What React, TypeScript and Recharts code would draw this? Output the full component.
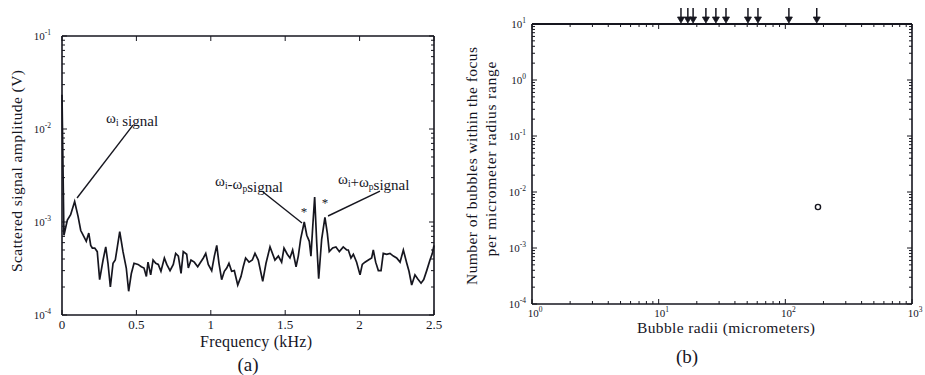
import React from "react";
import { LineChart, Line, XAxis, YAxis, ReferenceLine, ScatterChart, Scatter } from "recharts";

const INK = "#16161f";
const FONT = "'Liberation Serif', 'DejaVu Serif', serif";

// (a) scattered signal spectrum
const freqKHz = [
  0, 0.013, 0.036, 0.058, 0.085, 0.108, 0.126, 0.148, 0.163, 0.18, 0.193, 0.204, 0.22, 0.237, 0.253, 0.276, 0.294, 0.309,
  0.325, 0.343, 0.358, 0.372, 0.388, 0.41, 0.432, 0.448, 0.466, 0.484, 0.511, 0.533, 0.551, 0.567, 0.578, 0.596, 0.612, 0.63,
  0.647, 0.665, 0.688, 0.704, 0.726, 0.748, 0.764, 0.782, 0.8, 0.815, 0.838, 0.849, 0.867, 0.889, 0.912, 0.927, 0.95, 0.966,
  0.983, 1.006, 1.024, 1.04, 1.055, 1.073, 1.091, 1.107, 1.122, 1.14, 1.158, 1.181, 1.203, 1.218, 1.234, 1.257, 1.279,
  1.297, 1.319, 1.349, 1.371, 1.398, 1.431, 1.454, 1.476, 1.492, 1.514, 1.532, 1.55, 1.573, 1.588, 1.604, 1.628, 1.645,
  1.662, 1.673, 1.685, 1.698, 1.712, 1.725, 1.745, 1.767, 1.783, 1.796, 1.819, 1.841, 1.864, 1.89, 1.913,
  1.924, 1.942, 1.958, 1.98, 2.003, 2.018, 2.036, 2.059, 2.081, 2.092, 2.108, 2.126, 2.144, 2.159, 2.182, 2.204, 2.227,
  2.249, 2.272, 2.294, 2.317, 2.332, 2.35, 2.372, 2.39, 2.413, 2.431, 2.451, 2.473, 2.489, 2.5,
];
const amplitudeV = [
  2.34e-2, 7.2e-4, 1.05e-3, 1.2e-3, 1.66e-3, 1.15e-3, 8.1e-4, 6.9e-4, 6.2e-4, 7.6e-4, 5.6e-4, 5.25e-4, 5.25e-4, 4.8e-4, 2.4e-4, 3.9e-4, 5.4e-4, 3.6e-4,
  2.0e-4, 3.6e-4, 3.9e-4, 5.4e-4, 7.9e-4, 4.8e-4, 3.2e-4, 1.8e-4, 2.8e-4, 3.6e-4, 3.5e-4, 3.3e-4, 3.2e-4, 2.6e-4, 3.7e-4, 2.7e-4, 3.9e-4, 3.6e-4,
  3.5e-4, 2.95e-4, 4.1e-4, 3.5e-4, 3.0e-4, 3.5e-4, 4.6e-4, 4.3e-4, 2.8e-4, 4.8e-4, 4.5e-4, 3.2e-4, 3.9e-4, 3.7e-4, 3.3e-4, 3.6e-4, 4.1e-4, 4.6e-4,
  3.5e-4, 3.0e-4, 4.3e-4, 5.6e-4, 3.6e-4, 2.4e-4, 2.95e-4, 3.2e-4, 3.6e-4, 2.95e-4, 3.0e-4, 2.1e-4, 2.6e-4, 3.3e-4, 4.1e-4, 3.7e-4, 3.9e-4,
  4.6e-4, 3.9e-4, 2.3e-4, 3.6e-4, 5.4e-4, 3.9e-4, 4.3e-4, 3.7e-4, 5.25e-4, 4.5e-4, 4.1e-4, 5.0e-4, 3.3e-4, 4.3e-4, 6.6e-4, 1.0e-3, 7.2e-4,
  6.2e-4, 4.3e-4, 8.9e-4, 1.86e-3, 5.9e-4, 2.45e-4, 6.5e-4, 1.12e-3, 7.6e-4, 4.8e-4, 5.25e-4, 5.4e-4, 4.8e-4, 5.4e-4, 5.0e-4,
  5.0e-4, 4.1e-4, 4.5e-4, 3.7e-4, 2.7e-4, 3.5e-4, 3.7e-4, 3.9e-4, 4.1e-4, 5.0e-4, 3.7e-4, 3.0e-4, 3.0e-4, 4.6e-4, 4.5e-4, 4.6e-4, 4.3e-4,
  4.1e-4, 3.7e-4, 5.0e-4, 3.6e-4, 2.95e-4, 2.1e-4, 2.7e-4, 2.45e-4, 2.2e-4, 2.4e-4, 3.0e-4, 3.9e-4, 4.6e-4, 5.6e-4,
];
const freqTicks = [0, 0.5, 1, 1.5, 2, 2.5];
const freqTickLabels = ["0", "0.5", "1", "1.5", "2", "2.5"];
const ampDecades = [1e-4, 1e-3, 1e-2, 1e-1];

// pointer lines for the annotations, [kHz, V] -> [kHz, V]
const pointerLines = [
  [[0.477, 1.1e-2], [0.101, 1.81e-3]],
  [[1.351, 2.1e-3], [1.613, 9.75e-4]],
  [[2.137, 2.15e-3], [1.788, 1.16e-3]],
];

// (b) bubble radii
const arrowRadii = [15, 17, 18.7, 23.6, 28.3, 34, 50.7, 60.8, 106.7, 177];
const measuredRadius = [181];
const measuredCount = [0.0054];
const radiusDecades = [1, 10, 100, 1000];
const countDecades = [1e-4, 1e-3, 1e-2, 1e-1, 1, 10];

const spectrum = freqKHz.map((f, i) => ({ f, v: amplitudeV[i] }));
const arrowPoints = arrowRadii.map((r) => ({ r, n: 10 }));
const measuredPoints = measuredRadius.map((r, i) => ({ r, n: measuredCount[i] }));

// chart boxes: plot of (a) is 372 x 279, plot of (b) is 380 x 280
const A = { w: 460, h: 375, m: { top: 36, right: 26, bottom: 40, left: 22 }, yw: 40, xh: 20 };
const B = { w: 465, h: 375, m: { top: 24, right: 13, bottom: 51, left: 32 }, yw: 40, xh: 20 };
const plotW = (c: typeof A) => c.w - c.m.left - c.m.right - c.yw;
const plotH = (c: typeof A) => c.h - c.m.top - c.m.bottom - c.xh;

function withMinors(decades: number[]) {
  const out: number[] = [];
  decades.forEach((d, i) => {
    if (i === decades.length - 1) out.push(d);
    else for (let k = 1; k < 10; k++) out.push(d * k);
  });
  return out;
}

const isDecade = (v: number) => Math.abs(Math.log10(v) - Math.round(Math.log10(v))) < 1e-6;

function powLabel(v: number) {
  const exp = Math.round(Math.log10(v));
  return (
    <>
      10<tspan dy={-5} fontSize={7.5}>{exp}</tspan>
    </>
  );
}

// left axis tick: label outside, short tick marks inward on left and right edges
function makeLogYTick(margin: number, width: number) {
  return function LogYTick(props: any) {
    const { x, y, payload } = props;
    const v = payload.value;
    const major = isDecade(v);
    const ax = x + margin;
    const len = major ? 5 : 3;
    return (
      <g>
        <line x1={ax} y1={y} x2={ax + len} y2={y} stroke={INK} strokeWidth={1} />
        <line x1={ax + width} y1={y} x2={ax + width - len} y2={y} stroke={INK} strokeWidth={1} />
        {major && (
          <text x={x} y={y} dy={4} textAnchor="end" fontSize={11} fill={INK} fontFamily={FONT}>
            {powLabel(v)}
          </text>
        )}
      </g>
    );
  };
}

// bottom axis tick: label below, tick marks inward on bottom and top edges
function makeXTick(margin: number, height: number, log: boolean) {
  return function XTick(props: any) {
    const { x, y, payload } = props;
    const v = payload.value;
    const major = log ? isDecade(v) : true;
    const ay = y - margin;
    const len = major ? 5 : 3;
    return (
      <g>
        <line x1={x} y1={ay} x2={x} y2={ay - len} stroke={INK} strokeWidth={1} />
        <line x1={x} y1={ay - height} x2={x} y2={ay - height + len} stroke={INK} strokeWidth={1} />
        {major && (
          <text x={log ? x + 3 : x} y={y} dy={9} textAnchor="middle" fontSize={log ? 11 : 13} fill={INK}
            fontFamily={FONT}>
            {log ? powLabel(v) : freqTickLabels[freqTicks.indexOf(v)]}
          </text>
        )}
      </g>
    );
  };
}

function ArrowShape(props: any) {
  const { cx, cy } = props;
  return (
    <g stroke={INK} strokeWidth={1.5} fill={INK}>
      <line x1={cx} y1={cy - 16} x2={cx} y2={cy - 4} />
      <polygon points={`${cx - 3.5},${cy - 7} ${cx},${cy - 1} ${cx + 3.5},${cy - 7}`} strokeWidth={0.8} />
    </g>
  );
}

function RingShape(props: any) {
  const { cx, cy } = props;
  return <circle cx={cx} cy={cy} r={2.6} stroke={INK} strokeWidth={1.4} fill="none" />;
}

function NoLabel() {
  return <g />;
}

const boxLine = { stroke: INK, strokeWidth: 1.6 };

const FreqTick = makeXTick(5, plotH(A), false);
const AmpTick = makeLogYTick(11, plotW(A));
const RadiusTick = makeXTick(4, plotH(B), true);
const CountTick = makeLogYTick(6, plotW(B));

function SpectrumChart() {
  return (
    <LineChart width={A.w} height={A.h} data={spectrum} margin={A.m}>
      <XAxis xAxisId="f" dataKey="f" type="number" domain={[0, 2.5]} ticks={freqTicks} interval={0} height={A.xh}
        tickSize={0} tickMargin={5} tickLine={false} axisLine={boxLine} tick={FreqTick} />
      <XAxis xAxisId="ft" type="number" domain={[0, 2.5]} allowDataOverflow orientation="top" mirror
        tick={NoLabel} tickLine={false} axisLine={boxLine} />
      <YAxis yAxisId="a" type="number" scale="log" domain={[1e-4, 1e-1]} ticks={withMinors(ampDecades)} interval={0}
        width={A.yw} tickSize={0} tickMargin={11} tickLine={false} axisLine={boxLine} tick={AmpTick} />
      <YAxis yAxisId="ar" type="number" scale="log" domain={[1e-4, 1e-1]} allowDataOverflow orientation="right" mirror
        tick={NoLabel} tickLine={false} axisLine={boxLine} />
      <Line xAxisId="f" yAxisId="a" dataKey="v" type="linear" dot={false} stroke={INK} strokeWidth={1.7}
        isAnimationActive={false} />
      {pointerLines.map((seg, i) => (
        <ReferenceLine key={i} xAxisId="f" yAxisId="a" stroke={INK} strokeWidth={1.4}
          segment={[{ x: seg[0][0], y: seg[0][1] }, { x: seg[1][0], y: seg[1][1] }]} />
      ))}
    </LineChart>
  );
}

function BubbleChart() {
  return (
    <ScatterChart width={B.w} height={B.h} margin={B.m}>
      <XAxis xAxisId="r" dataKey="r" type="number" scale="log" domain={[1, 1000]} ticks={withMinors(radiusDecades)}
        interval={0} height={B.xh} tickSize={0} tickMargin={4} tickLine={false} axisLine={boxLine} tick={RadiusTick} />
      <XAxis xAxisId="rt" type="number" scale="log" domain={[1, 1000]} allowDataOverflow orientation="top" mirror
        tick={NoLabel} tickLine={false} axisLine={{ stroke: INK, strokeWidth: 2 }} />
      <YAxis yAxisId="n" dataKey="n" type="number" scale="log" domain={[1e-4, 10]} ticks={withMinors(countDecades)}
        interval={0} width={B.yw} tickSize={0} tickMargin={6} tickLine={false} axisLine={boxLine} tick={CountTick} />
      <YAxis yAxisId="nr" type="number" scale="log" domain={[1e-4, 10]} allowDataOverflow orientation="right" mirror
        tick={NoLabel} tickLine={false} axisLine={boxLine} />
      <Scatter xAxisId="r" yAxisId="n" data={arrowPoints} shape={ArrowShape} isAnimationActive={false} />
      <Scatter xAxisId="r" yAxisId="n" data={measuredPoints} shape={RingShape} isAnimationActive={false} />
    </ScatterChart>
  );
}

const sub = (s: string) => (
  <>
    <tspan dy={3} fontSize={9.5}>{s}</tspan>
    <tspan dy={-3}></tspan>
  </>
);

export default function App() {
  return (
    <div style={{ position: "absolute", left: 0, top: 0, width: 925, height: 375, background: "#fff", overflow: "hidden" }}>
      <div style={{ position: "absolute", left: 0, top: 0 }}>
        <SpectrumChart />
      </div>
      <div style={{ position: "absolute", left: 460, top: 0 }}>
        <BubbleChart />
      </div>
      <svg width={925} height={375} style={{ position: "absolute", left: 0, top: 0, pointerEvents: "none" }}
        fontFamily={FONT} fill={INK}>
        <text transform="translate(22,171) rotate(-90)" textAnchor="middle" fontSize={15.5}
          textLength={202} lengthAdjust="spacing">
          Scattered signal amplitude (V)
        </text>
        <text x={256} y={347} textAnchor="middle" fontSize={16} textLength={112} lengthAdjust="spacing">
          Frequency (kHz)
        </text>
        <text x={248} y={371} textAnchor="middle" fontSize={19}>(a)</text>

        <text x={106} y={123} fontSize={15}>ω{sub("i")} signal</text>
        <text x={215} y={186} fontSize={15}>ω{sub("i")}-ω{sub("p")}signal</text>
        <text x={338} y={184} fontSize={15}>ω{sub("i")}+ω{sub("p")}signal</text>
        <text x={304} y={216} textAnchor="middle" fontSize={13}>*</text>
        <text x={325} y={207} textAnchor="middle" fontSize={13}>*</text>

        <text transform="translate(477,166) rotate(-90)" textAnchor="middle" fontSize={15.5}
          textLength={238} lengthAdjust="spacing">
          Number of bubbles within the focus
        </text>
        <text transform="translate(496,159) rotate(-90)" textAnchor="middle" fontSize={15.5}
          textLength={195} lengthAdjust="spacing">
          per micrometer radius range
        </text>
        <text x={726} y={333} textAnchor="middle" fontSize={15.5} textLength={178} lengthAdjust="spacing">
          Bubble radii (micrometers)
        </text>
        <text x={687} y={363} textAnchor="middle" fontSize={19}>(b)</text>
      </svg>
    </div>
  );
}
